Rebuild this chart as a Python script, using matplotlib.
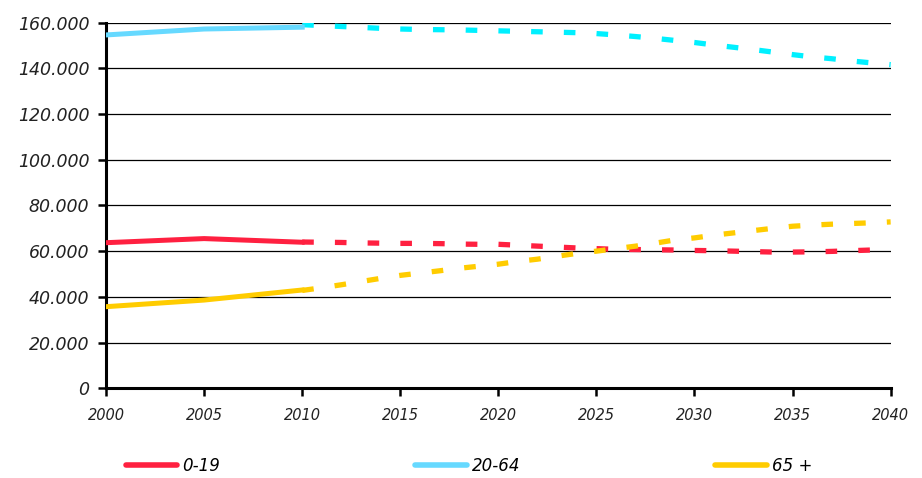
import matplotlib
matplotlib.use("Agg")
import matplotlib.pyplot as plt
from matplotlib.lines import Line2D

# observed values (thousands)
anni_oss = [2000, 2005, 2010]
g0_19_oss = [63.7, 65.5, 63.9]
g20_64_oss = [154.6, 157.2, 158.0]
g65_oss = [35.7, 38.6, 43.0]

# projections 2010-2040
anni_prev = list(range(2010, 2041))
g0_19_prev = [64.0, 63.9, 63.8, 63.6, 63.5, 63.4, 63.4, 63.3, 63.1, 63.0, 63.0,
              62.6, 62.2, 61.8, 61.4, 61.1, 60.8, 60.7, 60.6, 60.5, 60.3,
              60.2, 60.0, 59.8, 59.6, 59.6, 59.7, 59.9, 60.2, 60.5, 60.7]
g20_64_prev = [159.1, 158.7, 158.3, 157.9, 157.5, 157.2, 157.0, 156.9, 156.8, 156.6, 156.4,
               156.2, 156.0, 155.8, 155.6, 155.2, 154.6, 153.9, 153.1, 152.2, 151.3,
               150.2, 149.2, 148.2, 147.1, 146.0, 145.0, 144.2, 143.2, 142.4, 141.6]
g65_prev = [42.8, 44.0, 45.3, 46.7, 48.1, 49.4, 50.4, 51.4, 52.5, 53.4, 54.3,
            55.5, 56.5, 57.8, 59.0, 60.0, 61.1, 62.2, 63.5, 64.9, 65.8,
            67.0, 68.0, 69.0, 70.0, 70.9, 71.4, 71.8, 72.1, 72.4, 72.8]

etichette = ['0-19', '20-64', '65 +']
yticks = [0, 20000, 40000, 60000, 80000, 100000, 120000, 140000, 160000]
ylabels = ['0', '20.000', '40.000', '60.000', '80.000', '100.000', '120.000', '140.000', '160.000']
xticks = [2000, 2005, 2010, 2015, 2020, 2025, 2030, 2035, 2040]

rosso = '#FF2040'
azzurro = '#66D9FF'
ciano = '#00F0FF'
giallo = '#FFCC00'

fig = plt.figure(figsize=(9.22, 4.78), dpi=100)
ax = fig.add_axes([0.115, 0.1877, 0.851, 0.765])

k = lambda v: [x * 1000 for x in v]
dash = (0, (2.2, 4))
ax.plot(anni_prev, k(g20_64_prev), c=ciano, lw=3.8, ls=dash, dash_capstyle='butt', zorder=3)
ax.plot(anni_prev, k(g0_19_prev), c=rosso, lw=3.8, ls=dash, dash_capstyle='butt', zorder=3)
ax.plot(anni_prev, k(g65_prev), c=giallo, lw=3.8, ls=dash, dash_capstyle='butt', zorder=3)
ax.plot(anni_oss, k(g20_64_oss), c=azzurro, lw=3.6, zorder=4)
ax.plot(anni_oss, k(g0_19_oss), c=rosso, lw=3.6, zorder=4)
ax.plot(anni_oss, k(g65_oss), c=giallo, lw=3.6, zorder=4)

ax.set_xlim(2000, 2040)
ax.set_ylim(0, 160000)
ax.set_yticks(yticks, ylabels)
ax.set_xticks(xticks)
for t in ax.get_yticklabels():
    t.set_fontstyle('italic')
    t.set_fontsize(12.5)
    t.set_color('#222222')
for t in ax.get_xticklabels():
    t.set_fontstyle('italic')
    t.set_fontsize(10.5)
    t.set_family(['Liberation Sans Narrow', 'DejaVu Sans'])
    t.set_color('#222222')

ax.grid(axis='y', color='black', lw=0.9)
ax.set_axisbelow(True)
ax.spines['top'].set_visible(False)
ax.spines['right'].set_visible(False)
ax.spines['left'].set_linewidth(2.2)
ax.spines['bottom'].set_linewidth(2.2)
ax.tick_params(axis='y', direction='out', length=6, width=1.8, pad=6)
ax.tick_params(axis='x', direction='out', length=6, width=1.8, pad=8)

handles = [Line2D([], [], c=rosso, lw=4, solid_capstyle='round'),
           Line2D([], [], c=azzurro, lw=4, solid_capstyle='round'),
           Line2D([], [], c=giallo, lw=4, solid_capstyle='round')]
leg = fig.legend(handles, etichette, loc='center left', bbox_to_anchor=(0.12, 0.025),
                 ncol=3, frameon=False, handlelength=3.1, handletextpad=0.3,
                 columnspacing=11.7, prop={'style': 'italic', 'size': 12})

fig.savefig('out.png', dpi=100)
